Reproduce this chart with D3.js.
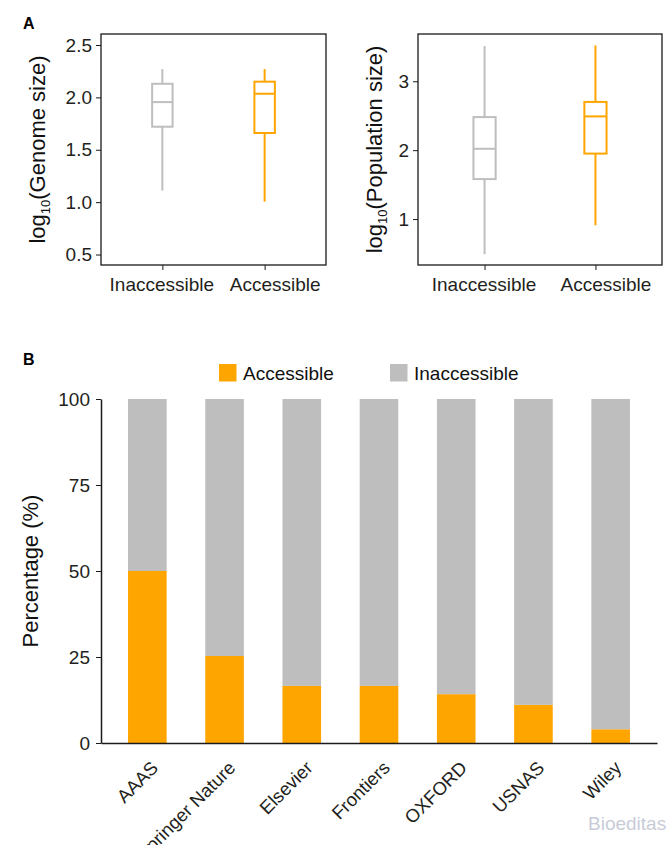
<!DOCTYPE html>
<meta charset="utf-8">
<style>
body { margin: 0; background: #fff; }
svg { font-family: "Liberation Sans", Arial, sans-serif; }
.tick text { fill: #231f20; }
.tick line, .domain { stroke: #1a1a1a; }
</style>
<script src="https://cdn.jsdelivr.net/npm/d3@7"></script>
<svg width="671" height="845"></svg>
<script>

// panel A: box stats per group = [lower whisker, Q1, median, Q3, upper whisker]
var groups = ["Inaccessible", "Accessible"];
var groupColors = ["#BEBEBE", "#FFA500"];
var genomeStats = [[1.11, 1.72, 1.955, 2.13, 2.27], [1.005, 1.66, 2.035, 2.15, 2.27]];
var genomeTicks = [0.5, 1.0, 1.5, 2.0, 2.5];
var popStats = [[0.49, 1.58, 2.02, 2.48, 3.51], [0.91, 1.95, 2.49, 2.70, 3.52]];
var popTicks = [1, 2, 3];

// panel B: share of accessible papers per publisher
var publishers = ["AAAS", "Springer Nature", "Elsevier", "Frontiers", "OXFORD", "USNAS", "Wiley"];
var accessiblePct = [50, 25.3, 16.6, 16.6, 14.2, 11.1, 4.0];
var pctTicks = [0, 25, 50, 75, 100];
var seriesNames = ["Accessible", "Inaccessible"];

var svg = d3.select("svg");

svg.append("text").attr("x", 23).attr("y", 29)
    .attr("font-weight", "bold").attr("font-size", 16).text("A");
svg.append("text").attr("x", 23).attr("y", 365)
    .attr("font-weight", "bold").attr("font-size", 16).text("B");

function boxPanel(x0, x1, y0, y1, yDomain, ticks, fmt, stats, labelName, labelX) {
    var x = d3.scalePoint().domain(groups).range([x0, x1]).padding(0.6);
    var y = d3.scaleLinear().domain(yDomain).range([y1, y0]);
    var bw = x.step() * 0.2;
    var g = svg.append("g");

    g.append("g")
        .attr("transform", "translate(" + x0 + ",0)")
        .call(d3.axisLeft(y).tickValues(ticks).tickFormat(d3.format(fmt)).tickSize(5).tickPadding(4))
        .call(function(a) { a.select(".domain").remove(); })
        .selectAll("text").attr("font-size", 19).attr("font-family", "Liberation Sans, Arial");

    g.append("g")
        .attr("transform", "translate(0," + y1 + ")")
        .call(d3.axisBottom(x).tickSize(5).tickPadding(8))
        .call(function(a) { a.select(".domain").remove(); })
        .selectAll("text")
        .attr("font-size", 19)
        .attr("font-family", "Liberation Sans, Arial")
        .attr("dx", function(d) { return d === "Accessible" ? 10 : -1; });

    g.append("rect")
        .attr("x", x0).attr("y", y0)
        .attr("width", x1 - x0).attr("height", y1 - y0)
        .attr("fill", "none").attr("stroke", "#1a1a1a").attr("stroke-width", 1.3);

    var box = g.selectAll(".box")
        .data(stats)
        .enter().append("g")
        .attr("class", "box")
        .attr("stroke", function(d, i) { return groupColors[i]; })
        .attr("stroke-width", 2)
        .attr("fill", "none");

    box.append("line")
        .attr("x1", function(d, i) { return x(groups[i]); })
        .attr("x2", function(d, i) { return x(groups[i]); })
        .attr("y1", function(d) { return y(d[0]); })
        .attr("y2", function(d) { return y(d[1]); });
    box.append("line")
        .attr("x1", function(d, i) { return x(groups[i]); })
        .attr("x2", function(d, i) { return x(groups[i]); })
        .attr("y1", function(d) { return y(d[3]); })
        .attr("y2", function(d) { return y(d[4]); });
    box.append("rect")
        .attr("x", function(d, i) { return x(groups[i]) - bw / 2; })
        .attr("width", bw)
        .attr("y", function(d) { return y(d[3]); })
        .attr("height", function(d) { return y(d[1]) - y(d[3]); });
    box.append("line")
        .attr("x1", function(d, i) { return x(groups[i]) - bw / 2; })
        .attr("x2", function(d, i) { return x(groups[i]) + bw / 2; })
        .attr("y1", function(d) { return y(d[2]); })
        .attr("y2", function(d) { return y(d[2]); });

    var lab = g.append("text")
        .attr("transform", "translate(" + labelX + "," + ((y0 + y1) / 2) + ") rotate(-90)")
        .attr("text-anchor", "middle")
        .attr("font-size", 22)
        .attr("fill", "#111");
    lab.append("tspan").text("log");
    lab.append("tspan").attr("font-size", 13).attr("dy", 5).text("10");
    lab.append("tspan").attr("dy", -5).text("(" + labelName + ")");
}

boxPanel(101, 326, 34, 265, [0.40, 2.605], genomeTicks, ".1f", genomeStats, "Genome size", 45);
boxPanel(418, 662, 34, 265, [0.333, 3.686], popTicks, "d", popStats, "Population size", 382);

// panel B stacked bars
var xb = d3.scaleBand().domain(publishers).range([101, 657])
    .paddingInner(0.5).paddingOuter(0.35);
var yb = d3.scaleLinear().domain([0, 100]).range([743, 399]);
var colorB = d3.scaleOrdinal().domain(seriesNames).range(["#FFA500", "#BEBEBE"]);

var rows = publishers.map(function(p, i) {
    return { publisher: p, Accessible: accessiblePct[i], Inaccessible: 100 - accessiblePct[i] };
});
var stacked = d3.stack().keys(seriesNames)(rows);

svg.append("g")
    .selectAll("g")
    .data(stacked)
    .enter().append("g")
    .attr("fill", function(d) { return colorB(d.key); })
    .selectAll("rect")
    .data(function(d) { return d; })
    .enter().append("rect")
    .attr("x", function(d) { return xb(d.data.publisher); })
    .attr("width", xb.bandwidth())
    .attr("y", function(d) { return yb(d[1]); })
    .attr("height", function(d) { return yb(d[0]) - yb(d[1]); });

svg.append("g")
    .attr("transform", "translate(101,0)")
    .call(d3.axisLeft(yb).tickValues(pctTicks).tickSize(5).tickSizeOuter(0).tickPadding(6))
    .call(function(a) { a.select(".domain").attr("stroke-width", 1.5); })
    .selectAll("text").attr("font-size", 19).attr("font-family", "Liberation Sans, Arial");

var xAxisB = svg.append("g")
    .attr("transform", "translate(0,743)")
    .call(d3.axisBottom(xb).tickSize(0).tickSizeOuter(0));
xAxisB.select(".domain").attr("stroke-width", 1.5);
xAxisB.selectAll("text")
    .attr("font-size", 18.5)
    .attr("font-family", "Liberation Sans, Arial")
    .attr("text-anchor", "end")
    .attr("dy", null)
    .attr("y", null)
    .attr("transform", "translate(12,26) rotate(-45)");

svg.append("text")
    .attr("transform", "translate(38,571) rotate(-90)")
    .attr("text-anchor", "middle")
    .attr("font-size", 22)
    .attr("fill", "#111")
    .text("Percentage (%)");

// legend
var legend = svg.append("g")
    .selectAll("g")
    .data(seriesNames)
    .enter().append("g")
    .attr("transform", function(d, i) { return "translate(" + (i === 0 ? 219 : 390) + ",364)"; });
legend.append("rect")
    .attr("width", 17.5).attr("height", 17.5)
    .attr("fill", function(d) { return colorB(d); });
legend.append("text")
    .attr("x", 24).attr("y", 16)
    .attr("font-size", 19)
    .attr("fill", "#111")
    .text(function(d) { return d; });

svg.append("text")
    .attr("x", 588).attr("y", 830)
    .attr("font-size", 19)
    .attr("fill", "#c8ccd8")
    .text("Bioeditas");

</script>
